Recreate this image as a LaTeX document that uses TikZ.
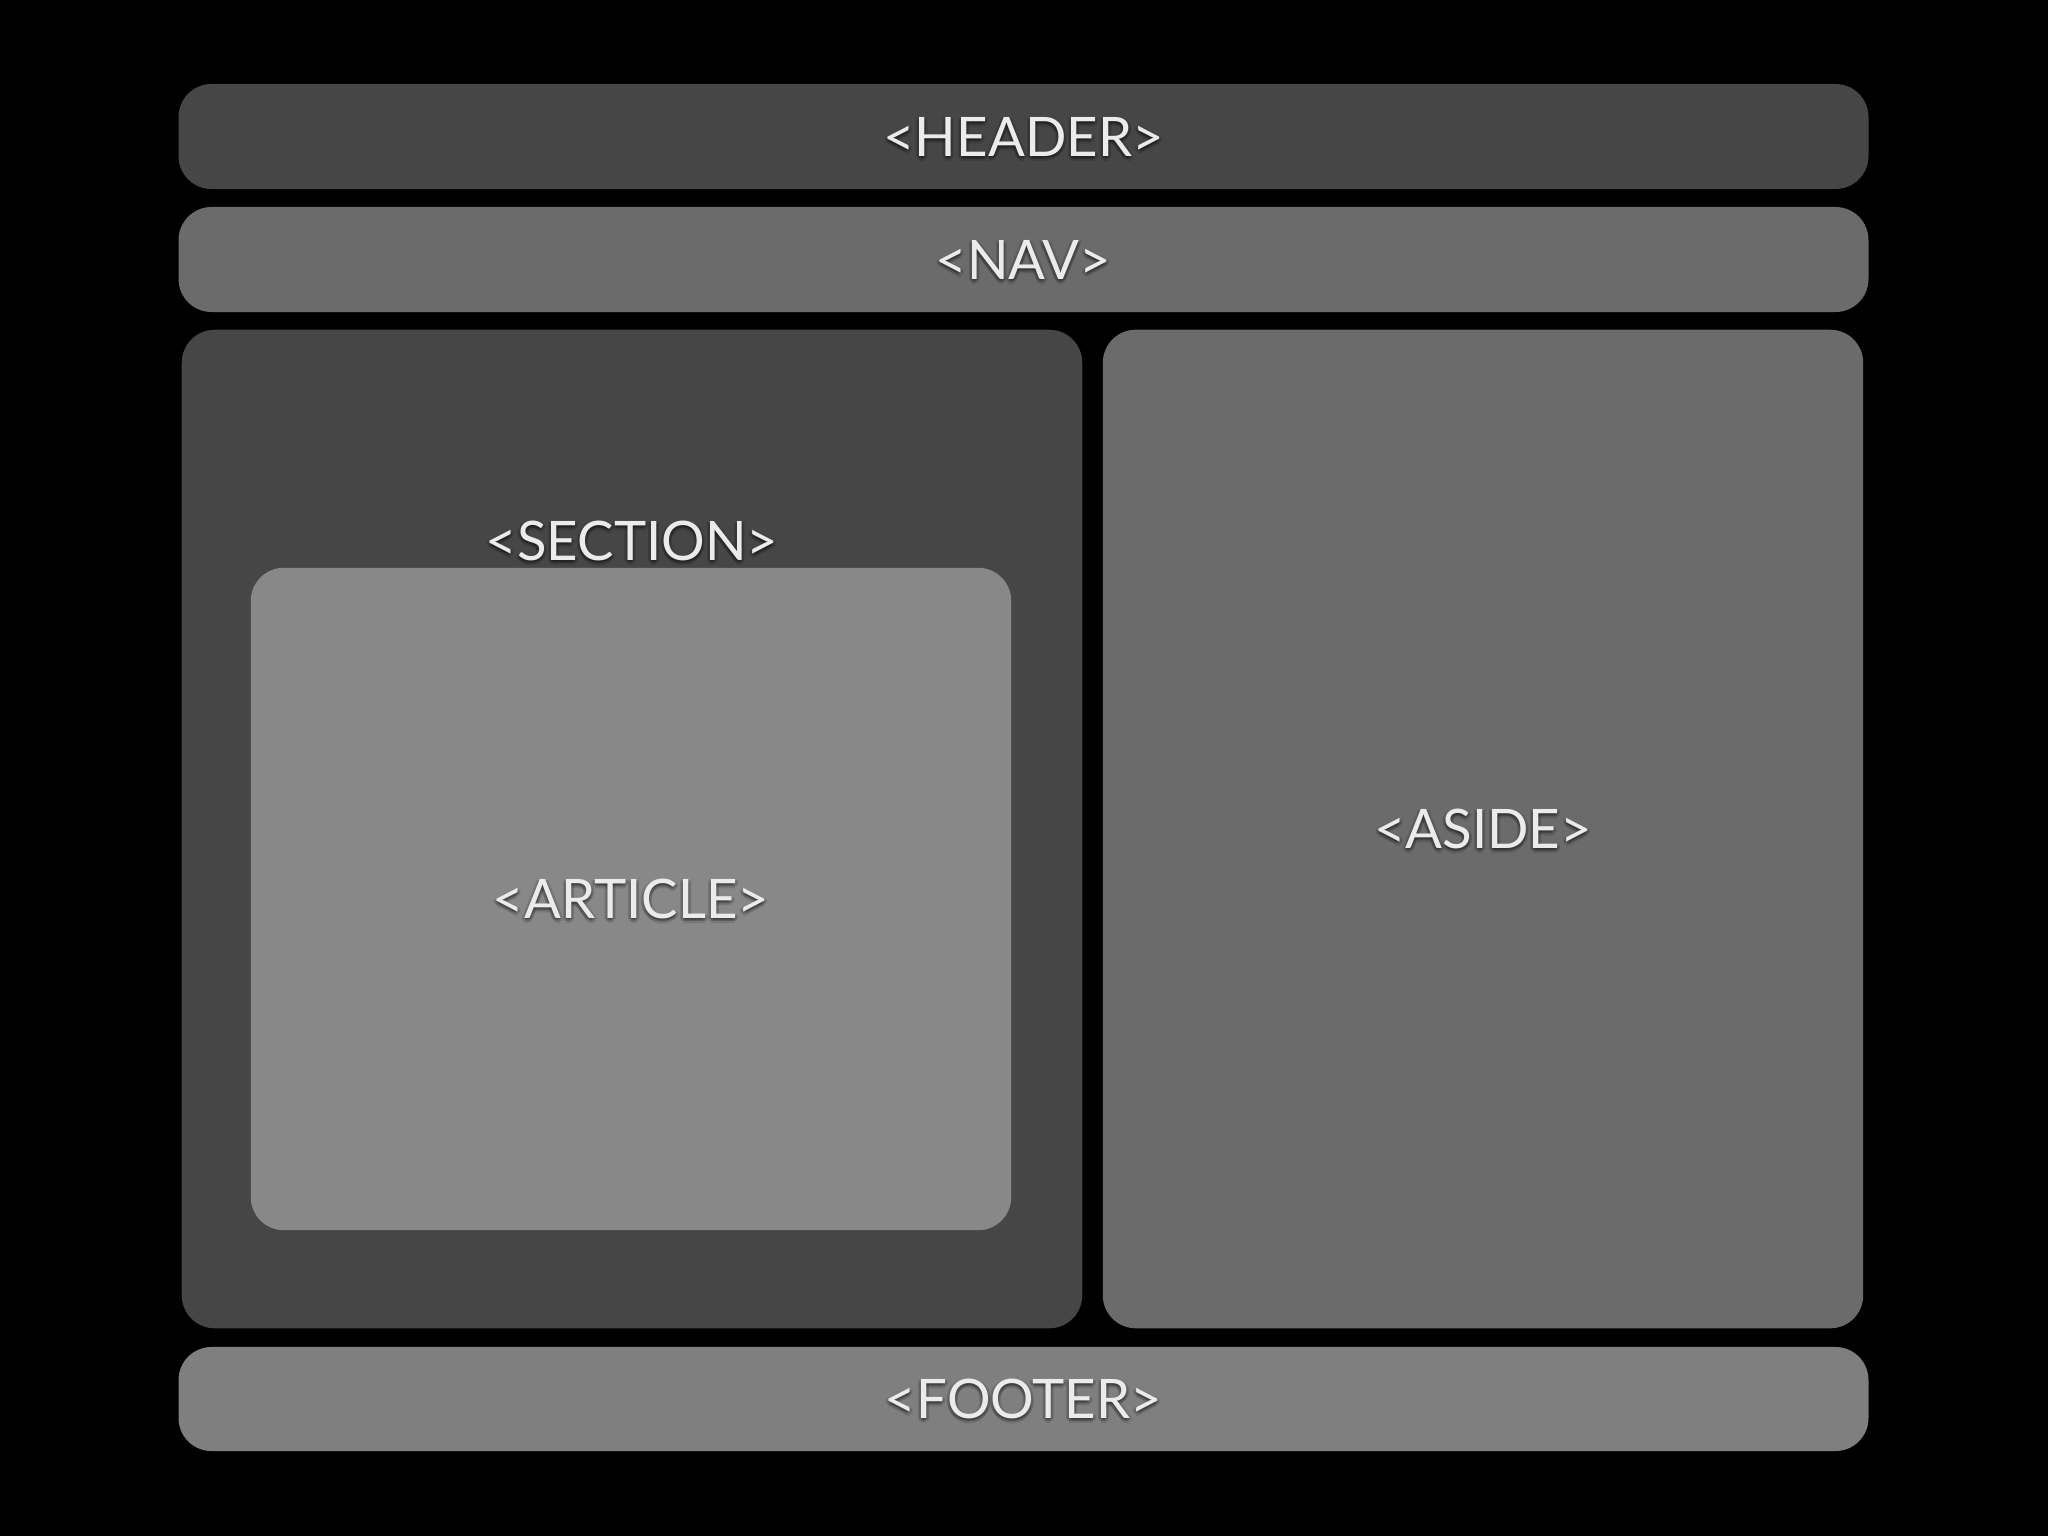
\documentclass[tikz,border=0pt]{standalone}
\usepackage{fontspec}
\setmainfont{Lato}
\definecolor{dk}{HTML}{464646}
\definecolor{md}{HTML}{6B6B6B}
\definecolor{lt}{HTML}{888888}
\definecolor{ft}{HTML}{7F7F7F}
\definecolor{tx}{HTML}{EBEBEB}
\tikzset{
  box/.style={fill=#1, draw=none, rounded corners=0.33cm, inner sep=0pt},
  lbl/.style={text=tx, font=\fontsize{15.5}{18}\selectfont, inner sep=0pt},
  shd/.style={text=black, opacity=0.12, font=\fontsize{15.5}{18}\selectfont, inner sep=0pt},
}
\newcommand\mylabel[3]{%
  \node[shd] at ([xshift=0.00cm,yshift=-0.02cm]#1) {#3};
  \node[shd] at ([xshift=0.02cm,yshift=-0.03cm]#1) {#3};
  \node[shd] at ([xshift=-0.02cm,yshift=-0.03cm]#1) {#3};
  \node[shd] at ([xshift=0.00cm,yshift=-0.05cm]#1) {#3};
  \node[shd] at ([xshift=0.03cm,yshift=-0.01cm]#1) {#3};
  \node[shd] at ([xshift=-0.03cm,yshift=-0.01cm]#1) {#3};
  \node[lbl] (#2) at (#1) {#3};}
\begin{document}
\begin{tikzpicture}[x=0.01cm,y=-0.01cm]
\fill[black] (0,0) rectangle (2048,1536);
\useasboundingbox (0,0) rectangle (2048,1536);
\node[box=dk, minimum width=16.89cm, minimum height=1.05cm] (header) at (1023.5,136.5) {};
\node[box=md, minimum width=16.89cm, minimum height=1.05cm] (nav) at (1023.5,259.5) {};
\node[box=dk, minimum width=9.00cm, minimum height=9.98cm] (section) at (632,829) {};
\node[box=md, minimum width=7.60cm, minimum height=9.98cm] (aside) at (1483,829) {};
\node[box=lt, minimum width=7.60cm, minimum height=6.62cm] (article) at (631,899) {};
\node[box=ft, minimum width=16.89cm, minimum height=1.04cm] (footer) at (1023.5,1399) {};
\mylabel{header.center}{headerlbl}{<HEADER>}
\mylabel{nav.center}{navlbl}{<NAV>}
\mylabel{632,541}{sectionlbl}{<SECTION>}
\mylabel{article.center}{articlelbl}{<ARTICLE>}
\mylabel{aside.center}{asidelbl}{<ASIDE>}
\mylabel{footer.center}{footerlbl}{<FOOTER>}
\end{tikzpicture}
\end{document}
